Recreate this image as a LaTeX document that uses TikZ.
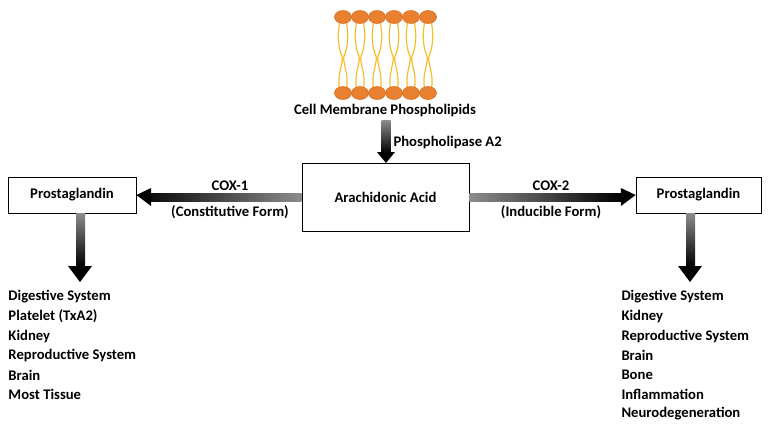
\documentclass[tikz,border=0pt]{standalone}
\usepackage{fontspec}
\setmainfont{Carlito}
\tikzset{every picture/.style={line width=0.75pt}}
\tikzset{
  lbl/.style={inner sep=0.75pt,font=\bfseries\fontsize{11}{13}\selectfont},
  box/.style={draw,line width=0.6pt,minimum height=0.75pt*36,inner sep=0pt,font=\bfseries\fontsize{11}{13}\selectfont},
  head/.style={fill={rgb,255:red,232;green,128;blue,48},draw={rgb,255:red,214;green,108;blue,34},line width=0.4pt},
  tail/.style={draw={rgb,255:red,246;green,190;blue,40},line width=0.9pt},
}
\begin{document}
\begin{tikzpicture}[x=0.75pt,y=0.75pt,yscale=-1,xscale=1]
	\useasboundingbox (0,0) rectangle (771,430);

	%Membrane bilayer
	\foreach \hx in {343,360,377,394,411,428}{
		\draw [tail] (\hx-3,20) .. controls (\hx-7,40) and (\hx-3,52) .. (\hx-1,56) .. controls (\hx+1,62) and (\hx-7,76) .. (\hx-3,90) ;
		\draw [tail] (\hx+3,20) .. controls (\hx+7,40) and (\hx+3,52) .. (\hx+1,56) .. controls (\hx-1,62) and (\hx+7,76) .. (\hx+3,90) ;
	}
	\foreach \hx in {343,360,377,394,411,428}{
		\draw [head] (\hx,17) ellipse (8.5 and 6.5) ;
		\draw [head] (\hx,93) ellipse (8.5 and 6.5) ;
	}

	% Boxes
	\node [box,minimum width=0.75pt*167,minimum height=0.75pt*68] (aa) at (385.5,197) {Arachidonic Acid};
	\node [box,minimum width=0.75pt*128] (pgl) at (72,195) {Prostaglandin};
	\node [box,minimum width=0.75pt*125] (pgr) at (698.5,195) {Prostaglandin};

	% Text Node
	\node [lbl] (cmp) at (385,110) {Cell Membrane Phospholipids};
	% Text Node
	\node [lbl,anchor=west] (pla) at (392,142) {Phospholipase A2};
	% Text Node
	\node [lbl] (cox1) at (230,186) {COX-1};
	\node [lbl] (cf) at (230,212) {(Constitutive Form)};
	\node [lbl] (cox2) at (551,186) {COX-2};
	\node [lbl] (inf) at (551,212) {(Inducible Form)};

	%Arrows (shaded shaft, black head)
	\coordinate (dl) at (80,282);
	\coordinate (dr) at (690,282);
	\shade [top color=black!45,bottom color=black] (381.5,120) rectangle (390.5,153);
	\fill (377,152) -- (395,152) -- (386,163) -- cycle;
	\shade [left color=black,right color=black!45] (pgl.east |- 0,193) ++(10,0) rectangle (aa.west |- 0,201);
	\fill (pgl.east |- 0,187) -- (pgl.east) -- (pgl.east |- 0,207) ++(11,0) -- ++(0,0) -- cycle;
	\fill ([xshift=11]pgl.east |- 0,188) -- (pgl.east) -- ([xshift=11]pgl.east |- 0,206) -- cycle;
	\shade [left color=black!45,right color=black] (aa.east |- 0,193) rectangle ([xshift=-11]pgr.west |- 0,201);
	\fill ([xshift=-11]pgr.west |- 0,188) -- (pgr.west) -- ([xshift=-11]pgr.west |- 0,206) -- cycle;
	\shade [top color=black!45,bottom color=black] (pgl.south -| 76,0) rectangle ([yshift=-12]dl -| 85,0);
	\fill ([xshift=-9,yshift=-12]dl) -- (dl) -- ([xshift=9,yshift=-12]dl) -- cycle;
	\shade [top color=black!45,bottom color=black] (pgr.south -| 686,0) rectangle ([yshift=-12]dr -| 695,0);
	\fill ([xshift=-9,yshift=-12]dr) -- (dr) -- ([xshift=9,yshift=-12]dr) -- cycle;

	% Lists
	\foreach \t [count=\i] in {Digestive System,Platelet (TxA2),Kidney,Reproductive System,Brain,Most Tissue}
		\node [lbl,anchor=west] (l\i) at (7,297+19.5*\i-19.5) {\t};
	\foreach \t [count=\i] in {Digestive System,Kidney,Reproductive System,Brain,Bone,Inflammation,Neurodegeneration}
		\node [lbl,anchor=west] (r\i) at (620,297+19.5*\i-19.5) {\t};
\end{tikzpicture}
\end{document}
